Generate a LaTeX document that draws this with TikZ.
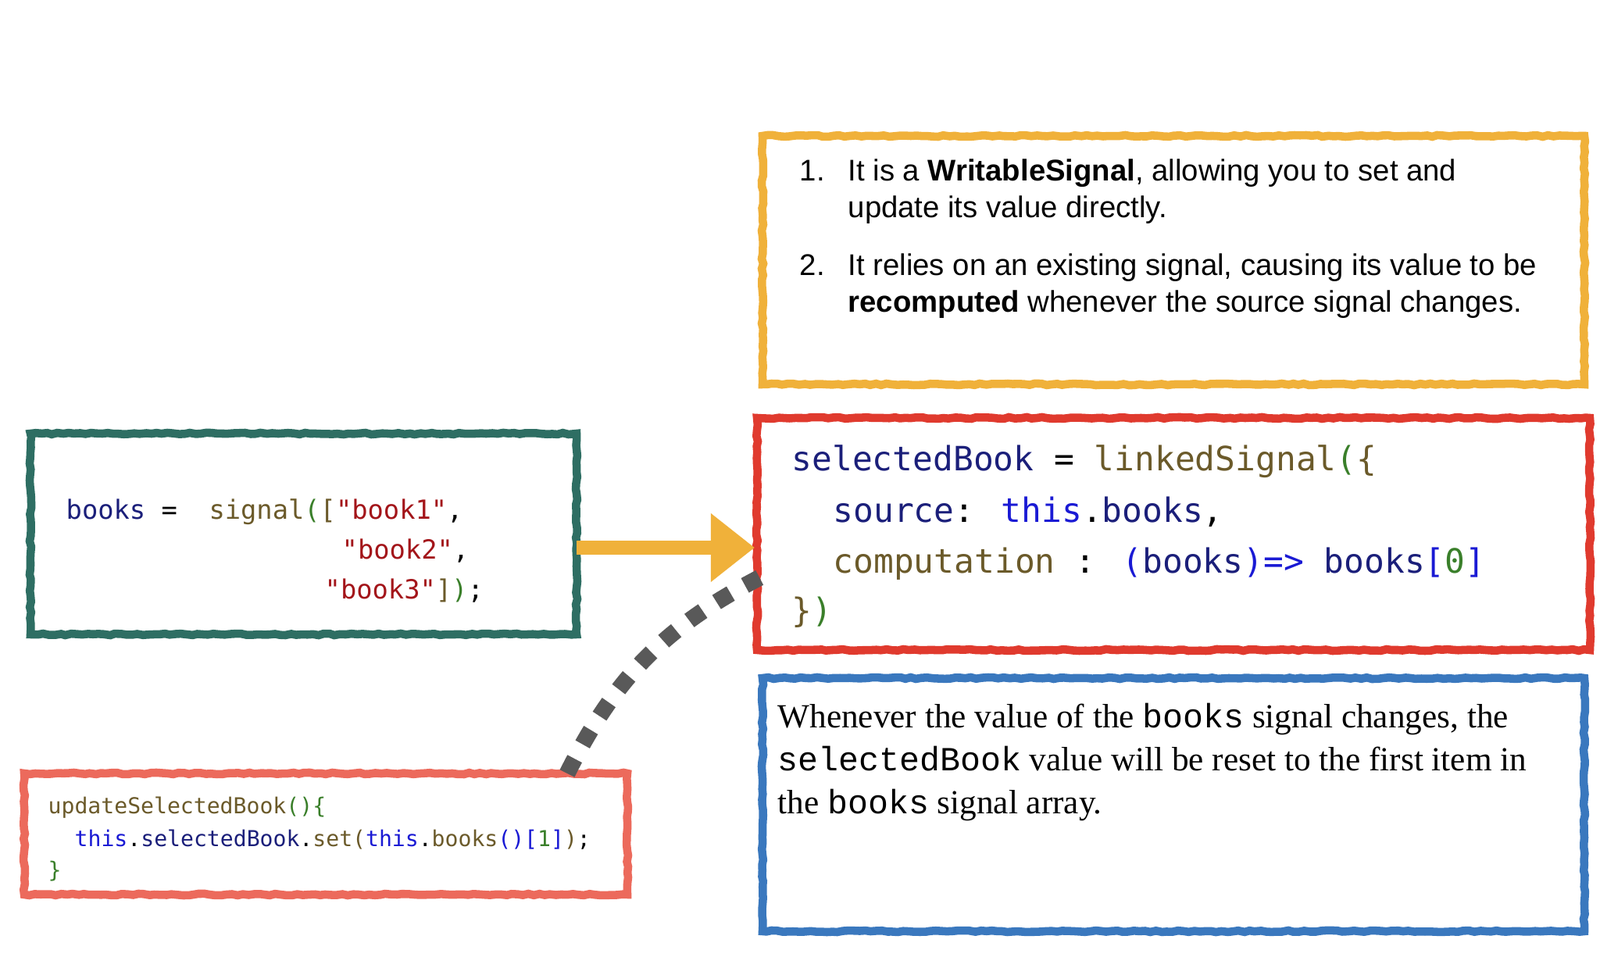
\documentclass[tikz,border=0pt]{standalone}
\usepackage{fontspec}
\setmainfont{Liberation Serif}
\newfontfamily\sansf{Liberation Sans}
\newfontfamily\codef{DejaVu Sans Mono}
\newfontfamily\courf{Liberation Mono}
\usetikzlibrary{decorations.pathmorphing, arrows.meta}
\definecolor{cyellow}{HTML}{F0B13A}
\definecolor{cred}{HTML}{E03A2E}
\definecolor{cblue}{HTML}{3A78BE}
\definecolor{cgreen}{HTML}{2E6E63}
\definecolor{csalmon}{HTML}{EC6A5C}
\definecolor{kvar}{HTML}{1B1F7A}
\definecolor{kfun}{HTML}{6B5A2A}
\definecolor{kstr}{HTML}{A3151A}
\definecolor{knum}{HTML}{3A7F2A}
\definecolor{kkey}{HTML}{1A1AD4}
\newcommand{\cv}[1]{\textcolor{kvar}{#1}}
\newcommand{\cf}[1]{\textcolor{kfun}{#1}}
\newcommand{\cs}[1]{\textcolor{kstr}{#1}}
\newcommand{\cn}[1]{\textcolor{knum}{#1}}
\newcommand{\ck}[1]{\textcolor{kkey}{#1}}
\tikzset{
  sketch/.style = {line width=3pt, decorate, decoration={random steps, segment length=2pt, amplitude=0.3pt}},
  line/.style = {anchor=base west, inner sep=0pt},
}
\begin{document}
\begin{tikzpicture}[x=1cm, y=1cm]
\useasboundingbox (0,0) rectangle (20.48,12.39);

% boxes
\draw [sketch, cyellow] (9.76,7.47) rectangle (20.28,10.65);
\draw [sketch, cred] (9.69,4.07) rectangle (20.35,7.04);
\draw [sketch, cblue] (9.76,0.47) rectangle (20.28,3.71);
\draw [sketch, cgreen] (0.39,4.27) rectangle (7.38,6.84);
\draw [sketch, csalmon] (0.31,0.94) rectangle (8.03,2.49);

% notes
\node (n1) [line, font=\sansf\fontsize{10.9}{12}\selectfont] at (10.23,10.07) {1.};
\node (t1) [line, font=\sansf\fontsize{10.9}{12}\selectfont] at (10.85,10.07) {It is a \textbf{WritableSignal}, allowing you to set and};
\node (t1b) [line, font=\sansf\fontsize{10.9}{12}\selectfont] at (10.85,9.60) {update its value directly.};
\node (n2) [line, font=\sansf\fontsize{10.9}{12}\selectfont] at (10.23,8.86) {2.};
\node (t2) [line, font=\sansf\fontsize{10.9}{12}\selectfont] at (10.85,8.86) {It relies on an existing signal, causing its value to be};
\node (t2b) [line, font=\sansf\fontsize{10.9}{12}\selectfont] at (10.85,8.39) {\textbf{recomputed} whenever the source signal changes.};

% linkedSignal
\node (r1) [line, font=\codef\fontsize{12.2}{14}\selectfont] at (10.13,6.36) {\cv{selectedBook} = \cf{linkedSignal}\cn{(}\cf{\{}};
\node (r2) [line, font=\codef\fontsize{12.2}{14}\selectfont] at (10.66,5.70) {\cv{source}: \ck{this}.\cv{books},};
\node (r3) [line, font=\codef\fontsize{12.2}{14}\selectfont] at (10.66,5.05) {\cf{computation} : \ck{(}\cv{books}\ck{)=>} \cv{books}\ck{[}\cn{0}\ck{]}};
\node (r4) [line, font=\codef\fontsize{12.2}{14}\selectfont] at (10.13,4.42) {\cf{\}}\cn{)}};

% books
\node (g1) [line, font=\codef\fontsize{9.6}{12}\selectfont] at (0.84,5.74) {\cv{books} =\ \ \cf{signal}\cn{(}\cf{[}\cs{"book1"},};
\node (g2) [line, font=\codef\fontsize{9.6}{12}\selectfont] at (4.37,5.23) {\cs{"book2"},};
\node (g3) [line, font=\codef\fontsize{9.6}{12}\selectfont] at (4.15,4.72) {\cs{"book3"}\cf{]}\cn{)};};

% update
\node (s1) [line, font=\codef\fontsize{8}{10}\selectfont] at (0.61,1.97) {\cf{updateSelectedBook}\cn{()\{}};
\node (s2) [line, font=\codef\fontsize{8}{10}\selectfont] at (0.95,1.55) {\ck{this}.\cv{selectedBook}.\cf{set}\cf{(}\ck{this}.\cf{books}\ck{()}\ck{[}\cn{1}\ck{]}\cf{)};};
\node (s3) [line, font=\codef\fontsize{8}{10}\selectfont] at (0.61,1.15) {\cn{\}}};

% explanation
\node (b1) [line, font=\fontsize{12.3}{14}\selectfont] at (9.95,3.07) {Whenever the value of the {\courf books} signal changes, the};
\node (b2) [line, font=\fontsize{12.3}{14}\selectfont] at (9.95,2.52) {{\courf selectedBook} value will be reset to the first item in};
\node (b3) [line, font=\fontsize{12.3}{14}\selectfont] at (9.95,1.97) {the {\courf books} signal array.};

% connectors
\coordinate (gout) at (7.38,5.38);
\coordinate (rin) at (9.66,5.38);
\coordinate (sout) at (7.26,2.49);
\coordinate (rbot) at (9.73,5.0);
\draw [cyellow, line width=5pt, -{Triangle[length=16pt, width=24pt]}] (gout) -- (rin);
\draw [black!65, line width=6pt, dash pattern=on 6pt off 6pt] (sout) to[bend left=18] (rbot);

\end{tikzpicture}
\end{document}
